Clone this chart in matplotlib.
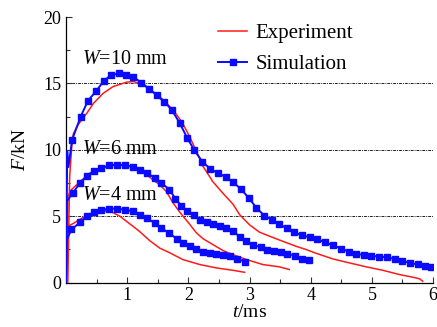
import matplotlib
matplotlib.use("Agg")
import matplotlib.pyplot as plt

plt.rcParams['font.family'] = ['Liberation Serif', 'DejaVu Serif']
plt.rcParams['mathtext.fontset'] = 'custom'
plt.rcParams['mathtext.rm'] = 'Liberation Serif'
plt.rcParams['mathtext.it'] = 'Liberation Serif:italic'

# W = 10 mm
t_sim10 = [0.0, 0.02, 0.04, 0.10, 0.24, 0.36, 0.49, 0.62, 0.73, 0.86, 0.98, 1.10, 1.23, 1.36,
           1.48, 1.61, 1.73, 1.86, 1.98, 2.10, 2.23, 2.36, 2.48, 2.61, 2.73, 2.86, 2.99, 3.11,
           3.24, 3.36, 3.48, 3.61, 3.73, 3.86, 3.99, 4.11, 4.24, 4.37, 4.50, 4.62, 4.74, 4.87,
           4.99, 5.12, 5.24, 5.37, 5.49, 5.62, 5.75, 5.86, 5.97]
f_sim10 = [0.0, 9.9, 8.7, 10.75, 12.5, 13.7, 14.4, 15.2, 15.6, 15.75, 15.65, 15.5, 15.05, 14.6,
           14.1, 13.6, 13.0, 12.0, 10.9, 9.95, 9.1, 8.55, 8.25, 7.95, 7.55, 7.05, 6.35, 5.65,
           5.04, 4.74, 4.42, 4.08, 3.78, 3.55, 3.40, 3.25, 3.02, 2.80, 2.55, 2.33, 2.18, 2.06,
           2.01, 1.96, 1.90, 1.78, 1.64, 1.48, 1.36, 1.28, 1.18]
t_exp10 = [0.03, 0.06, 0.10, 0.12, 0.20, 0.34, 0.45, 0.61, 0.77, 0.99, 1.10, 1.23, 1.42, 1.59,
           1.75, 1.89, 2.02, 2.13, 2.24, 2.40, 2.57, 2.73, 2.84, 3.00, 3.16, 3.35, 3.49, 3.76,
           3.93, 4.09, 4.36, 4.63, 4.91, 5.18, 5.45, 5.67, 5.78, 5.83]
f_exp10 = [0.0, 8.0, 10.6, 11.2, 11.9, 12.75, 13.5, 14.26, 14.76, 15.09, 15.14, 14.96, 14.4, 13.76,
           13.0, 12.13, 11.0, 9.9, 8.75, 7.6, 6.7, 5.9, 5.1, 4.35, 3.8, 3.45, 3.2, 2.73,
           2.48, 2.2, 1.78, 1.48, 1.18, 0.92, 0.6, 0.4, 0.28, 0.1]

# W = 6 mm
t_sim6 = [0.0, 0.01, 0.11, 0.23, 0.34, 0.45, 0.57, 0.71, 0.84, 0.97, 1.09, 1.21, 1.33, 1.45,
          1.56, 1.69, 1.79, 1.88, 1.98, 2.09, 2.19, 2.30, 2.40, 2.51, 2.62, 2.73, 2.84, 2.95,
          3.06, 3.18, 3.29, 3.40, 3.51, 3.62, 3.74, 3.85, 3.97]
f_sim6 = [0.0, 6.1, 6.74, 7.5, 8.0, 8.37, 8.62, 8.82, 8.87, 8.82, 8.7, 8.5, 8.25, 7.87,
          7.5, 7.0, 6.3, 5.8, 5.4, 5.07, 4.74, 4.53, 4.42, 4.27, 4.10, 3.86, 3.45, 3.10,
          2.86, 2.65, 2.48, 2.35, 2.27, 2.18, 2.03, 1.80, 1.73]
t_exp6 = [0.02, 0.03, 0.09, 0.23, 0.39, 0.55, 0.77, 0.99, 1.15, 1.32, 1.42, 1.53, 1.64, 1.75,
          1.86, 2.02, 2.13, 2.24, 2.40, 2.57, 2.73, 2.95, 3.22, 3.49, 3.65]
f_exp6 = [0.0, 6.5, 7.0, 7.6, 8.25, 8.62, 8.87, 8.87, 8.62, 8.12, 7.74, 7.37, 6.86, 6.0,
          5.3, 4.4, 3.75, 3.3, 2.86, 2.4, 2.1, 1.73, 1.35, 1.18, 0.98]

# W = 4 mm
t_sim4 = [0.0, 0.01, 0.09, 0.23, 0.34, 0.45, 0.58, 0.71, 0.84, 0.96, 1.09, 1.21, 1.33, 1.45,
          1.56, 1.69, 1.81, 1.91, 2.02, 2.13, 2.24, 2.35, 2.46, 2.57, 2.68, 2.79, 2.92]
f_sim4 = [0.0, 3.2, 4.0, 4.53, 5.0, 5.29, 5.49, 5.56, 5.56, 5.49, 5.36, 5.11, 4.86, 4.45,
          4.1, 3.7, 3.3, 3.0, 2.75, 2.5, 2.33, 2.23, 2.16, 2.1, 1.98, 1.80, 1.58]
t_exp4 = [0.02, 0.02, 0.12, 0.28, 0.45, 0.64, 0.75, 0.88, 1.02, 1.19, 1.37, 1.53, 1.70, 1.91,
          2.19, 2.46, 2.73, 2.92]
f_exp4 = [0.0, 4.2, 4.45, 4.9, 5.25, 5.41, 5.3, 5.0, 4.5, 3.9, 3.15, 2.6, 2.23, 1.73,
          1.35, 1.1, 0.92, 0.77]

ref_lines = [5, 10, 15]
widths = ["$W$=10 mm", "$W$=6 mm", "$W$=4 mm"]
label_pos = [(0.26, 16.8), (0.26, 10.0), (0.26, 6.55)]

fig = plt.figure(figsize=(4.37, 3.27), dpi=100)
ax = fig.add_axes([0.151, 0.136, 0.840, 0.812])

for y in ref_lines:
    ax.axhline(y, color='#222222', lw=0.7, ls=(0, (3, 1, 1, 1)), zorder=1)

sims = [(t_sim10, f_sim10, 3), (t_sim6, f_sim6, 2), (t_sim4, f_sim4, 2)]
exps = [(t_exp10, f_exp10), (t_exp6, f_exp6), (t_exp4, f_exp4)]

for i, (t, f) in enumerate(exps):
    ax.plot(t, f, color='#ff1a1a', lw=1.1, zorder=3,
            label='Experiment' if i == 0 else None)
for i, (t, f, skip) in enumerate(sims):
    ax.plot(t, f, color='#0a0aff', lw=1.4, marker='s', ms=4.5,
            markevery=slice(skip, None), zorder=4,
            label='Simulation' if i == 0 else None)

for txt, (x, y) in zip(widths, label_pos):
    ax.text(x, y, txt, fontsize=14.5, ha='left', va='center', zorder=5)

ax.set_xlim(0, 6)
ax.set_ylim(0, 20)
ax.set_xticks([1, 2, 3, 4, 5, 6])
ax.set_xticks([0.5, 1.5, 2.5, 3.5, 4.5, 5.5], minor=True)
ax.set_yticks([0, 5, 10, 15, 20])
ax.set_yticks([2.5, 7.5, 12.5, 17.5], minor=True)
ax.tick_params(which='both', direction='in', labelsize=13, width=0.8, color='#333333')
ax.tick_params(which='major', length=4)
ax.tick_params(which='minor', length=3)
ax.spines['top'].set_visible(False)
ax.spines['right'].set_visible(False)
ax.spines['left'].set_linewidth(0.9)
ax.spines['bottom'].set_linewidth(0.9)

ax.set_xlabel("$t$/ms", fontsize=14, labelpad=0)
ax.set_ylabel("$F$/kN", fontsize=14, labelpad=10)

ax.legend(loc='upper left', bbox_to_anchor=(0.414, 0.975), frameon=False, fontsize=15,
          handlelength=1.4, handletextpad=0.4, labelspacing=0.55, numpoints=1,
          borderaxespad=0.0, borderpad=0.0)

fig.savefig("out.png", dpi=100)
